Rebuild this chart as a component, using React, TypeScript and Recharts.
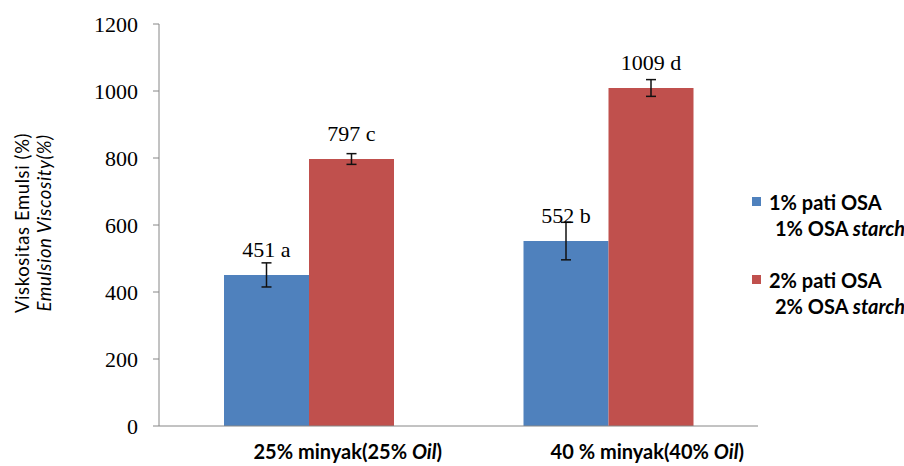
import { BarChart, Bar, XAxis, YAxis, ErrorBar, LabelList } from 'recharts'

const categories = ['25% minyak', '40 % minyak']
const oilLabels = ['25%', '40%']
const pati1 = [451, 552]
const pati2 = [797, 1009]
const err1 = [36, 56]
const err2 = [16, 25]
const letters1 = ['a', 'b']
const letters2 = ['c', 'd']
const yTicks = [0, 200, 400, 600, 800, 1000, 1200]
const legendLines = [
  ['1% pati OSA', '1% OSA', 'starch'],
  ['2% pati OSA', '2% OSA', 'starch'],
]
const seriesColors = ['#4F81BD', '#C0504D']

const W = 904
const H = 466
const SANS = "Lato, 'Open Sans', sans-serif"
const SERIF = "'Liberation Serif', 'Times New Roman', serif"
const AXIS = '#868686'

const data = categories.map((name, i) => ({
  name,
  oil: oilLabels[i],
  p1: pati1[i],
  p2: pati2[i],
  e1: err1[i],
  e2: err2[i],
}))

// value + significance letter, sits 18px above the bar top
const valueLabel = (letters: string[]) => (props: any) => {
  const { x, y, width, value, index } = props
  return (
    <text x={x + width / 2} y={y - 18} textAnchor="middle" fontFamily={SERIF} fontSize={22} fill="#000">
      {`${value} ${letters[index]}`}
    </text>
  )
}

const CategoryTick = (props: any) => {
  const { x, y, payload } = props
  const i = categories.indexOf(payload.value)
  return (
    <text x={x + 39} y={y + 33} textAnchor="middle" fontFamily={SANS} fontWeight="bold" fontSize={20} fill="#000">
      {`${payload.value}(${oilLabels[i]} `}
      <tspan fontStyle="italic">Oil</tspan>)
    </text>
  )
}

const YLabel = (props: any) => {
  const vb = props.viewBox
  const cy = vb.y + vb.height / 2 - 2
  return (
    <g fontFamily={SANS} fontSize={18.5} fill="#000" letterSpacing={0.6}>
      <text transform={`translate(22, ${cy}) rotate(-90)`} textAnchor="middle" dominantBaseline="central">
        Viskositas Emulsi (%)
      </text>
      <text transform={`translate(44, ${cy}) rotate(-90)`} textAnchor="middle" dominantBaseline="central" fontStyle="italic">
        Emulsion Viscosity(%)
      </text>
    </g>
  )
}

function Legend2() {
  const tops = [202, 280]
  const txt = { position: 'absolute' as const, lineHeight: '24px', fontFamily: SANS, fontWeight: 'bold', fontSize: 20, whiteSpace: 'nowrap' as const }
  return (
    <>
      {legendLines.map((l, i) => (
        <div key={i}>
          <div style={{ position: 'absolute', left: 752, top: tops[i] - 5, width: 9, height: 9, background: seriesColors[i] }} />
          <div style={{ ...txt, left: 769, top: tops[i] - 12 }}>{l[0]}</div>
          <div style={{ ...txt, left: 775, top: tops[i] + 14 }}>
            {l[1]} <i>{l[2]}</i>
          </div>
        </div>
      ))}
    </>
  )
}

export default function App() {
  return (
    <div style={{ position: 'absolute', left: 0, top: 0, width: W, height: H, background: '#fff', overflow: 'hidden' }}>
      <BarChart width={W} height={H} data={data} margin={{ top: 24, right: 146, bottom: 0, left: 99 }} barGap={0} barSize={85}>
        <XAxis
          xAxisId="edge"
          type="number"
          domain={[0, 2]}
          ticks={[0, 1, 2]}
          allowDataOverflow
          height={0}
          axisLine={false}
          tick={false}
          tickSize={6}
          tickLine={{ stroke: AXIS }}
        />
        <XAxis
          xAxisId="cat"
          dataKey="name"
          height={40}
          axisLine={{ stroke: AXIS }}
          tickLine={false}
          tickSize={0}
          tickMargin={0}
          tick={<CategoryTick />}
          interval={0}
        />
        <YAxis
          width={60}
          domain={[0, 1200]}
          ticks={yTicks}
          interval={0}
          axisLine={{ stroke: AXIS }}
          tickLine={{ stroke: AXIS }}
          tickSize={6}
          tickMargin={15}
          tick={{ fontFamily: SERIF, fontSize: 22, fill: '#000' }}
          label={{ content: <YLabel /> }}
        />
        <Bar xAxisId="cat" dataKey="p1" fill={seriesColors[0]} isAnimationActive={false}>
          <ErrorBar dataKey="e1" width={5} stroke="#111" strokeWidth={1.5} direction="y" />
          <LabelList dataKey="p1" content={valueLabel(letters1)} />
        </Bar>
        <Bar xAxisId="cat" dataKey="p2" fill={seriesColors[1]} isAnimationActive={false}>
          <ErrorBar dataKey="e2" width={5} stroke="#111" strokeWidth={1.5} direction="y" />
          <LabelList dataKey="p2" content={valueLabel(letters2)} />
        </Bar>
      </BarChart>
      <Legend2 />
    </div>
  )
}
